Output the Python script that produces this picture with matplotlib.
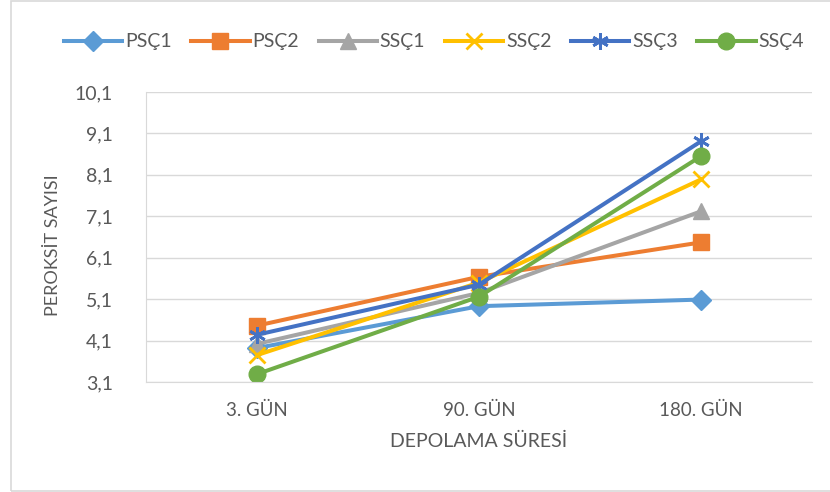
import matplotlib
matplotlib.use("Agg")
import matplotlib.pyplot as plt
from matplotlib.patches import Rectangle
from matplotlib.ticker import FuncFormatter

categories = ["3. GÜN", "90. GÜN", "180. GÜN"]
series_names = ["PSÇ1", "PSÇ2", "SSÇ1", "SSÇ2", "SSÇ3", "SSÇ4"]
psc1 = [3.92, 4.93, 5.09]
psc2 = [4.46, 5.64, 6.47]
ssc1 = [4.02, 5.25, 7.22]
ssc2 = [3.75, 5.50, 7.99]
ssc3 = [4.24, 5.45, 8.91]
ssc4 = [3.29, 5.16, 8.55]
values = [psc1, psc2, ssc1, ssc2, ssc3, ssc4]
y_ticks = [3.1, 4.1, 5.1, 6.1, 7.1, 8.1, 9.1, 10.1]

colors = ["#5B9BD5", "#ED7D31", "#A5A5A5", "#FFC000", "#4472C4", "#70AD47"]
markers = ["D", "s", "^", "x", (6, 2, 0), "o"]
msizes = [10, 11.5, 12, 11, 12, 12]

plt.rcParams['font.family'] = ['Lato', 'DejaVu Sans']
txt = "#595959"

fig = plt.figure(figsize=(8.3, 4.92), dpi=100)
fig.patches.append(Rectangle((11/830, 1/492), 1.0, 490/492, transform=fig.transFigure,
                             fill=False, edgecolor="#D9D9D9", linewidth=1.2))
ax = fig.add_axes([146/830, 110/492, 666/830, 290/492])

x = list(range(len(categories)))
for name, vals, c, m, ms in zip(series_names, values, colors, markers, msizes):
    mew = 2 if (m == "x" or isinstance(m, tuple)) else 1
    ax.plot(x, vals, color=c, linewidth=2.9, marker=m, markersize=ms,
            markerfacecolor=c, markeredgecolor=c, markeredgewidth=mew, label=name)

ax.set_xlim(-0.5, 2.5)
ax.set_ylim(3.1, 10.1)
ax.set_yticks(y_ticks)
ax.yaxis.set_major_formatter(FuncFormatter(lambda v, p: f"{v:.1f}".replace(".", ",")))
ax.set_xticks(x)
ax.set_xticklabels(categories)
ax.grid(axis="y", color="#D9D9D9", linewidth=1)
ax.set_axisbelow(True)
for s in ["top", "right"]:
    ax.spines[s].set_visible(False)
ax.spines["left"].set_color("#D9D9D9")
ax.spines["bottom"].set_color("#D9D9D9")
ax.tick_params(axis="y", length=0, pad=24, labelsize=14, labelcolor=txt)
ax.tick_params(axis="x", length=0, pad=14, labelsize=13.5, labelcolor=txt)
fig.text(53/830, 1 - 245/492, "PEROKSİT SAYISI", fontsize=13, color=txt,
         rotation=90, ha="center", va="center")
ax.set_xlabel("DEPOLAMA SÜRESİ", fontsize=14, color=txt, ha="center", va="center")
ax.xaxis.set_label_coords(0.5, (382 - 441) / 290)

leg = fig.legend(loc="center", bbox_to_anchor=(434/830, 1 - 42/492), ncol=6,
                 frameon=False, fontsize=14, handlelength=3.0, handletextpad=0.15,
                 columnspacing=1.0, labelcolor=txt)

fig.savefig("out.png", dpi=100)
